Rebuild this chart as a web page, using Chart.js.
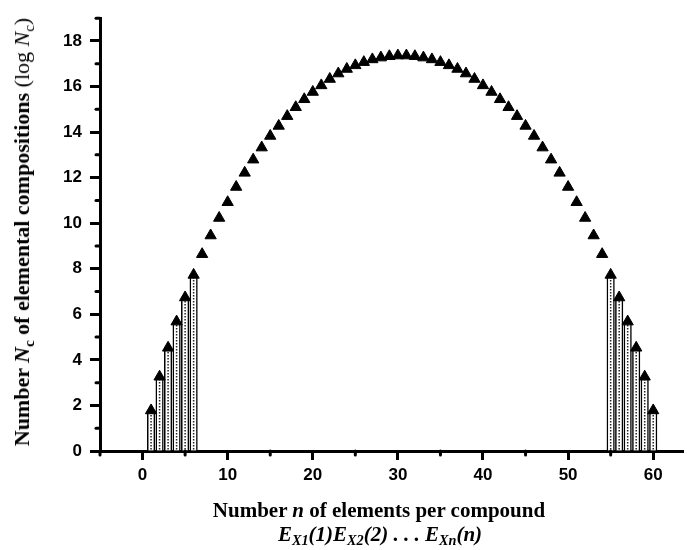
<!DOCTYPE html>
<html>
<head>
<meta charset="utf-8">
<script src="https://cdn.jsdelivr.net/npm/chart.js@4.4.1/dist/chart.umd.min.js"></script>
<style>
  body { margin:0; background:#fff; }
  #wrap { position:relative; width:691px; height:550px; }
  #wrap canvas { position:absolute; left:0; top:0; }
  .ttl { position:absolute; font-family:"Liberation Serif","Times New Roman",serif; font-weight:bold; color:#000; white-space:nowrap; line-height:1; }
  .ttl sub { font-size:0.68em; vertical-align:-0.32em; line-height:0; }
  #yTitle { left:22px; top:232px; transform:translate(-50%,-50%) rotate(-90deg); font-size:22px; }
  #yTitle .plain { font-weight:normal; }
  #xTitle1 { left:379px; top:510px; transform:translate(-50%,-50%); font-size:21px; }
  #xTitle2 { left:380px; top:534px; transform:translate(-50%,-50%); font-size:21px; font-style:italic; }
</style>
</head>
<body>
<div id="wrap">
  <canvas id="chart" width="691" height="550"></canvas>
  <div class="ttl" id="yTitle">Number <i>N</i><sub>c</sub> of elemental compositions <span class="plain">(log <i>N</i><sub>c</sub>)</span></div>
  <div class="ttl" id="xTitle1">Number <i>n</i> of elements per compound</div>
  <div class="ttl" id="xTitle2">E<sub>X1</sub>(1)E<sub>X2</sub>(2) . . . E<sub>Xn</sub>(n)</div>
</div>
<script>
// number of elements per compound
const compoundSizes = [
   1,  2,  3,  4,  5,  6,  7,  8,  9, 10, 11, 12, 13, 14, 15, 16, 17, 18, 19, 20,
  21, 22, 23, 24, 25, 26, 27, 28, 29, 30, 31, 32, 33, 34, 35, 36, 37, 38, 39, 40,
  41, 42, 43, 44, 45, 46, 47, 48, 49, 50, 51, 52, 53, 54, 55, 56, 57, 58, 59, 60
];
// log Nc
const logCompositions = [
   1.78,  3.26,  4.53,  5.68,  6.74,  7.73,  8.64,  9.46, 10.23, 10.92,
  11.59, 12.21, 12.79, 13.32, 13.83, 14.27, 14.70, 15.09, 15.44, 15.76,
  16.05, 16.33, 16.57, 16.77, 16.93, 17.07, 17.19, 17.27, 17.33, 17.36,
  17.36, 17.33, 17.27, 17.19, 17.07, 16.93, 16.77, 16.57, 16.33, 16.05,
  15.76, 15.44, 15.09, 14.70, 14.27, 13.83, 13.32, 12.79, 12.21, 11.59,
  10.92, 10.23,  9.46,  8.64,  7.73,  6.74,  5.68,  4.53,  3.26,  1.78
];
// sizes shown as bars at both ends
const barSizes = [1, 2, 3, 4, 5, 6, 55, 56, 57, 58, 59, 60];

const xMajorTicks = [0, 10, 20, 30, 40, 50, 60];
const xMinorTicks = [-5, 5, 15, 25, 35, 45, 55];
const yMajorTicks = [0, 2, 4, 6, 8, 10, 12, 14, 16, 18];
const yMinorTicks = [1, 3, 5, 7, 9, 11, 13, 15, 17, 19];

const points = compoundSizes.map((n, i) => ({ x: n, y: logCompositions[i] }));
const bars = barSizes.map(n => ({ x: n, y: logCompositions[compoundSizes.indexOf(n)] }));

const tickFont = { family: '"Liberation Sans", Arial, sans-serif', size: 17, weight: 'bold' };

// dotted fill line down the middle of each bar
const barDots = {
  id: 'barDots',
  afterDatasetDraw(chart, args) {
    if (args.index !== 0) return;
    const ctx = chart.ctx;
    ctx.save();
    ctx.strokeStyle = '#222';
    ctx.lineWidth = 1.5;
    ctx.setLineDash([1.5, 1.5]);
    args.meta.data.forEach(el => {
      ctx.beginPath();
      ctx.moveTo(el.x, el.base - 1);
      ctx.lineTo(el.x, el.y + 2);
      ctx.stroke();
    });
    ctx.restore();
  }
};

// short minor ticks on both axes
const minorTicks = {
  id: 'minorTicks',
  afterDraw(chart) {
    const ctx = chart.ctx;
    const xs = chart.scales.x, ys = chart.scales.y;
    ctx.save();
    ctx.strokeStyle = '#000';
    ctx.lineWidth = 3;
    ctx.lineCap = 'round';
    xMinorTicks.forEach(v => {
      const px = xs.getPixelForValue(v);
      ctx.beginPath();
      ctx.moveTo(px, xs.top);
      ctx.lineTo(px, xs.top + 4);
      ctx.stroke();
    });
    yMinorTicks.forEach(v => {
      const py = ys.getPixelForValue(v);
      ctx.beginPath();
      ctx.moveTo(ys.right, py);
      ctx.lineTo(ys.right - 4, py);
      ctx.stroke();
    });
    ctx.restore();
  }
};

new Chart(document.getElementById('chart'), {
  data: {
    datasets: [
      {
        type: 'bar',
        data: bars,
        backgroundColor: '#fff',
        borderColor: '#000',
        borderWidth: 1.5,
        borderSkipped: 'bottom',
        barThickness: 7.5,
        order: 2
      },
      {
        type: 'scatter',
        data: points,
        pointStyle: 'triangle',
        pointRadius: 6.5,
        backgroundColor: '#000',
        borderColor: '#000',
        borderWidth: 1,
        order: 1
      }
    ]
  },
  options: {
    responsive: false,
    animation: false,
    layout: { padding: { left: 0, right: 8, top: 13, bottom: 0 } },
    plugins: { legend: { display: false }, tooltip: { enabled: false } },
    scales: {
      x: {
        type: 'linear',
        min: -5,
        max: 63.5,
        offset: false,
        afterBuildTicks: s => { s.ticks = xMajorTicks.map(v => ({ value: v })); },
        afterFit: s => { s.height = 99; },
        border: { color: '#000', width: 3 },
        grid: { offset: false, drawOnChartArea: false, drawTicks: true, tickLength: 9, tickWidth: 3, tickColor: '#000' },
        ticks: { color: '#000', font: tickFont, padding: 5, maxRotation: 0 }
      },
      y: {
        type: 'linear',
        min: 0,
        max: 19,
        afterBuildTicks: s => { s.ticks = yMajorTicks.map(v => ({ value: v })); },
        afterFit: s => { s.width = 100; },
        border: { color: '#000', width: 3 },
        grid: { drawOnChartArea: false, drawTicks: true, tickLength: 10, tickWidth: 3, tickColor: '#000' },
        ticks: { color: '#000', font: tickFont, padding: 8 }
      }
    }
  },
  plugins: [barDots, minorTicks]
});
</script>
</body>
</html>
